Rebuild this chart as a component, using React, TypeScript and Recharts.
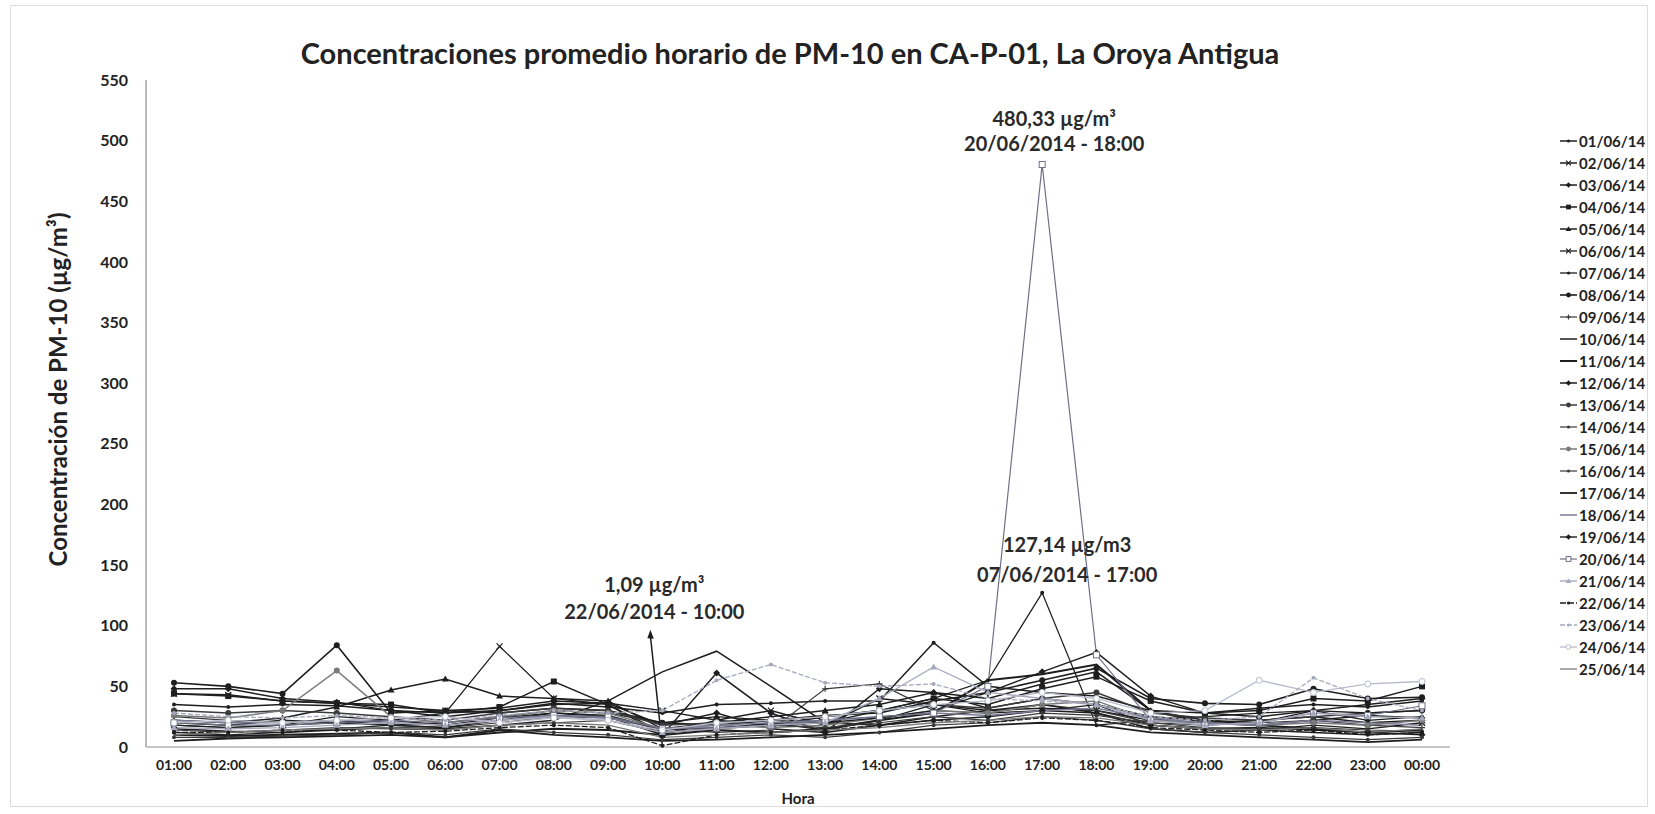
import React from 'react';
import { LineChart, Line, XAxis, YAxis, ReferenceDot, Legend } from 'recharts';

const HOURS = ['01:00','02:00','03:00','04:00','05:00','06:00','07:00','08:00','09:00','10:00','11:00','12:00','13:00','14:00','15:00','16:00','17:00','18:00','19:00','20:00','21:00','22:00','23:00','00:00'];
const SERIES_NAMES = ['01/06/14','02/06/14','03/06/14','04/06/14','05/06/14','06/06/14','07/06/14','08/06/14','09/06/14','10/06/14','11/06/14','12/06/14','13/06/14','14/06/14','15/06/14','16/06/14','17/06/14','18/06/14','19/06/14','20/06/14','21/06/14','22/06/14','23/06/14','24/06/14','25/06/14'];
const Y_TICKS = [0,50,100,150,200,250,300,350,400,450,500,550];

const s01 = [35,33,35,34,30,25,30,36,33,28,35,36,38,38,86,50,45,42,30,28,32,35,33,38];
const s02 = [44,43,38,36,33,30,32,38,36,30,22,30,18,40,35,30,32,30,22,20,22,25,20,22];
const s03 = [48,48,40,37,30,28,30,35,36,18,28,15,12,48,45,32,40,35,25,22,20,30,35,40];
const s04 = [44,42,38,36,35,28,33,54,35,10,22,18,25,30,40,35,48,58,38,28,30,40,38,50];
const s05 = [22,20,24,33,47,56,42,40,38,15,20,25,30,35,45,40,52,62,30,22,18,22,26,24];
const s06 = [18,16,18,25,22,28,83,40,35,12,15,20,14,22,35,28,30,35,18,15,14,18,15,20];
const s07 = [12,10,12,15,18,20,25,30,28,20,25,22,20,30,40,55,127.14,18,22,25,28,30,22,25];
const s08 = [53,50,44,84,28,30,28,32,30,20,18,22,26,28,38,45,55,65,40,36,35,48,40,41];
const s09 = [25,22,20,22,18,16,20,25,24,15,12,14,48,52,30,28,35,30,20,18,20,22,18,16];
const s10 = [15,13,12,14,16,15,18,22,38,62,79,50,20,18,25,30,35,28,15,12,14,12,10,12];
const s11 = [10,9,10,11,12,8,12,15,14,10,14,12,15,22,28,55,60,68,30,20,18,15,12,14];
const s12 = [20,18,22,20,18,16,22,28,25,10,61,28,12,18,22,25,30,28,18,15,16,14,12,10];
const s13 = [30,28,30,28,25,22,28,32,30,18,20,22,25,30,35,32,40,45,28,24,22,25,28,30];
const s14 = [8,8,9,10,12,10,15,12,10,6,8,10,8,12,18,20,25,22,15,12,10,8,6,8];
const s15 = [26,24,30,63,25,20,25,30,28,15,18,16,18,24,30,28,35,38,22,20,18,20,18,22];
const s16 = [14,12,14,16,15,14,18,20,22,12,15,18,16,20,25,22,28,26,20,16,15,16,14,13];
const s17 = [5,7,8,9,10,8,14,10,8,5,6,8,10,12,15,18,20,18,12,10,8,6,4,6];
const s18 = [22,20,20,22,20,18,22,26,24,15,18,20,22,25,28,26,30,32,24,20,18,22,20,18];
const s19 = [18,16,18,20,22,18,24,28,26,14,16,18,20,24,30,45,62,78,42,28,25,30,28,30];
const s20 = [20,18,18,20,22,20,24,26,25,15,16,18,22,25,28,50,480.33,76,22,18,20,28,26,34];
const s21 = [16,15,16,18,20,18,22,25,22,12,15,18,20,40,66,45,40,35,22,18,20,28,25,24];
const s22 = [12,12,14,14,12,13,16,18,16,1.09,10,12,14,18,22,20,24,22,16,14,12,14,10,12];
const s23 = [28,25,24,26,24,22,26,30,28,30,55,68,53,50,52,40,38,35,25,22,25,57,40,30];
const s24 = [20,22,20,22,24,25,20,24,22,14,20,22,25,30,35,38,45,40,28,30,55,45,52,54];
const s25 = [10,12,14,15,16,14,18,20,18,8,10,12,14,16,20,22,25,24,18,15,14,16,12,15];

const SERIES_VALUES = [s01,s02,s03,s04,s05,s06,s07,s08,s09,s10,s11,s12,s13,s14,s15,s16,s17,s18,s19,s20,s21,s22,s23,s24,s25];

const BLACK = '#1e1e1e';
const DARK = '#3a3a3a';
const GRAY = '#7a7a7a';
const BLUEGRAY = '#7b7d98';
const LIGHT = '#a7a9bd';
const PALE = '#b9bbcb';

const STYLES = [
  { color: BLACK, shape: 'dot', w: 1.5 },
  { color: BLACK, shape: 'x', w: 1.5 },
  { color: BLACK, shape: 'diamond', w: 1.5 },
  { color: BLACK, shape: 'square', w: 1.5 },
  { color: BLACK, shape: 'tri', w: 1.5 },
  { color: BLACK, shape: 'x', w: 1.3 },
  { color: BLACK, shape: 'dot', w: 1.3 },
  { color: BLACK, shape: 'circle', w: 1.6 },
  { color: DARK, shape: 'plus', w: 1.2 },
  { color: BLACK, shape: 'none', w: 1.5 },
  { color: BLACK, shape: 'none', w: 2 },
  { color: BLACK, shape: 'diamond', w: 1.5 },
  { color: DARK, shape: 'circle', w: 1.5 },
  { color: DARK, shape: 'dot', w: 1.2 },
  { color: GRAY, shape: 'circle', w: 1.5 },
  { color: DARK, shape: 'dot', w: 1.2 },
  { color: BLACK, shape: 'none', w: 1.8 },
  { color: BLUEGRAY, shape: 'none', w: 1.5 },
  { color: BLACK, shape: 'diamond', w: 1.4 },
  { color: '#6f7088', shape: 'opensq', w: 1.2 },
  { color: LIGHT, shape: 'tri', w: 1.4 },
  { color: BLACK, shape: 'dot', w: 1.3, dash: '6 2' },
  { color: LIGHT, shape: 'dot', w: 1.3, dash: '5 2' },
  { color: PALE, shape: 'opencircle', w: 1.3 },
  { color: GRAY, shape: 'none', w: 1.3 },
];

const KEYS = SERIES_NAMES.map((_, i) => 'd' + (i + 1));

const data = HOURS.map((h, i) => {
  const row: any = { hour: h };
  KEYS.forEach((k, j) => { row[k] = SERIES_VALUES[j][i]; });
  return row;
});

const FONT = 'Lato, "Open Sans", sans-serif';

function Marker({ shape, color, cx, cy, s = 1 }: any) {
  switch (shape) {
    case 'dot':
      return <circle cx={cx} cy={cy} r={2 * s} fill={color} />;
    case 'circle':
      return <circle cx={cx} cy={cy} r={3 * s} fill={color} />;
    case 'square':
      return <rect x={cx - 3 * s} y={cy - 3 * s} width={6 * s} height={6 * s} fill={color} />;
    case 'opensq':
      return <rect x={cx - 3 * s} y={cy - 3 * s} width={6 * s} height={6 * s} fill="#fff" stroke={color} strokeWidth={1} />;
    case 'opencircle':
      return <circle cx={cx} cy={cy} r={3 * s} fill="#fff" stroke={color} strokeWidth={1} />;
    case 'diamond':
      return <path d={`M${cx},${cy - 3.5 * s}L${cx + 3.5 * s},${cy}L${cx},${cy + 3.5 * s}L${cx - 3.5 * s},${cy}Z`} fill={color} />;
    case 'tri':
      return <path d={`M${cx},${cy - 3.5 * s}L${cx + 3.5 * s},${cy + 2.5 * s}L${cx - 3.5 * s},${cy + 2.5 * s}Z`} fill={color} />;
    case 'x':
      return <path d={`M${cx - 3 * s},${cy - 3 * s}L${cx + 3 * s},${cy + 3 * s}M${cx - 3 * s},${cy + 3 * s}L${cx + 3 * s},${cy - 3 * s}`} stroke={color} strokeWidth={1.2} />;
    case 'plus':
      return <path d={`M${cx - 3 * s},${cy}L${cx + 3 * s},${cy}M${cx},${cy - 3 * s}L${cx},${cy + 3 * s}`} stroke={color} strokeWidth={1.2} />;
    default:
      return null;
  }
}

const makeDot = (idx: number) => (props: any) => {
  const st = STYLES[idx];
  if (props.cy == null || st.shape === 'none') return <g key={`dot-${idx}-${props.index}`} />;
  return (
    <g key={`dot-${idx}-${props.index}`}>
      <Marker shape={st.shape} color={st.color} cx={props.cx} cy={props.cy} />
    </g>
  );
};

const LegendContent = () => (
  <div style={{ fontFamily: FONT, fontWeight: 700, fontSize: 15, color: '#222' }}>
    {SERIES_NAMES.map((n, i) => {
      const st = STYLES[i];
      return (
        <div key={n} style={{ height: 22, display: 'flex', alignItems: 'center' }}>
          <svg width={20} height={22} style={{ flex: 'none' }}>
            <line x1={2} y1={11} x2={19} y2={11} stroke={st.color} strokeWidth={st.w} strokeDasharray={st.dash} />
            <Marker shape={st.shape} color={st.color} cx={10.5} cy={11} s={0.8} />
          </svg>
          <span style={{ marginLeft: 1, whiteSpace: 'nowrap' }}>{n}</span>
        </div>
      );
    })}
  </div>
);

const annoText = { fontFamily: FONT, fontWeight: 700, fontSize: 20, fill: '#2a2a2a', textAnchor: 'middle' as const };

export default function App() {
  return (
    <div style={{ position: 'absolute', left: 0, top: 0, width: 1655, height: 814, background: '#fff', overflow: 'hidden' }}>
      <div style={{ position: 'absolute', left: 10, top: 5, width: 1636, height: 800, border: '1px solid #dcdcdc' }} />
      <div style={{ position: 'absolute', left: 0, top: 36, width: 1580, textAlign: 'center', fontFamily: FONT, fontWeight: 700, fontSize: 29, lineHeight: '34px', color: '#222' }}>
        Concentraciones promedio horario de PM-10 en CA-P-01, La Oroya Antigua
      </div>
      <div style={{ position: 'absolute', left: 0, top: 0 }}>
        <LineChart width={1655} height={814} data={data} margin={{ top: 80, right: 108, bottom: 0, left: 0 }}>
          <XAxis
            dataKey="hour"
            padding={{ left: 28, right: 28 }}
            tickLine={false}
            tickSize={0}
            tickMargin={13}
            height={67}
            axisLine={{ stroke: '#8c8c8c', strokeWidth: 1.2 }}
            tick={{ fontFamily: FONT, fontWeight: 700, fontSize: 14, fill: '#222' }}
            interval={0}
            label={{ value: 'Hora', position: 'insideBottom', offset: 10, style: { fontFamily: FONT, fontWeight: 700, fontSize: 15, fill: '#222' } }}
          />
          <YAxis
            domain={[0, 550]}
            ticks={Y_TICKS}
            interval={0}
            width={146}
            tickLine={false}
            tickSize={0}
            tickMargin={18}
            axisLine={{ stroke: '#8c8c8c', strokeWidth: 1.2 }}
            tick={{ fontFamily: FONT, fontWeight: 700, fontSize: 16, fill: '#222' }}
            label={{
              content: (p: any) => {
                const vb = p.viewBox;
                const cx = 57;
                const cy = vb.y + vb.height / 2 - 24;
                return (
                  <text x={cx} y={cy} transform={`rotate(-90 ${cx} ${cy})`} textAnchor="middle" dominantBaseline="central" style={{ fontFamily: FONT, fontWeight: 700, fontSize: 24, fill: '#222' }}>
                    Concentración de PM-10 (µg/m³)
                  </text>
                );
              },
            }}
          />
          <YAxis yAxisId="frame" orientation="right" width={0} domain={[0, 550]} tick={false} tickLine={false} axisLine={{ stroke: '#8c8c8c', strokeWidth: 1.2 }} />
          {KEYS.map((k, i) => (
            <Line
              key={k}
              dataKey={k}
              name={SERIES_NAMES[i]}
              stroke={STYLES[i].color}
              strokeWidth={STYLES[i].w}
              strokeDasharray={STYLES[i].dash}
              dot={makeDot(i)}
              activeDot={false}
              isAnimationActive={false}
              type="linear"
            />
          ))}
          <ReferenceDot
            x="17:00"
            y={480.33}
            r={0}
            shape={(p: any) => (
              <g>
                <text x={p.cx + 12} y={p.cy - 38} {...annoText}>480,33 µg/m³</text>
                <text x={p.cx + 12} y={p.cy - 13} {...annoText}>20/06/2014 - 18:00</text>
              </g>
            )}
          />
          <ReferenceDot
            x="17:00"
            y={127.14}
            r={0}
            shape={(p: any) => (
              <g>
                <text x={p.cx + 25} y={p.cy - 41} {...annoText}>127,14 µg/m3</text>
                <text x={p.cx + 25} y={p.cy - 11} {...annoText}>07/06/2014 - 17:00</text>
              </g>
            )}
          />
          <ReferenceDot
            x="10:00"
            y={1.09}
            r={0}
            shape={(p: any) => {
              const tx = p.cx - 12;
              const ty = p.cy - 116;
              return (
                <g>
                  <line x1={p.cx} y1={p.cy} x2={tx} y2={ty + 6} stroke="#1e1e1e" strokeWidth={1.5} />
                  <path d={`M${tx},${ty}L${tx + 3.5},${ty + 9}L${tx - 3},${ty + 8.5}Z`} fill="#1e1e1e" />
                  <text x={p.cx - 8} y={p.cy - 154} {...annoText}>1,09 µg/m³</text>
                  <text x={p.cx - 8} y={p.cy - 127} {...annoText}>22/06/2014 - 10:00</text>
                </g>
              );
            }}
          />
          <Legend
            layout="vertical"
            verticalAlign="top"
            align="right"
            content={<LegendContent />}
            wrapperStyle={{ position: 'absolute', left: 1558, top: 130, width: 97 }}
          />
        </LineChart>
      </div>
    </div>
  );
}
